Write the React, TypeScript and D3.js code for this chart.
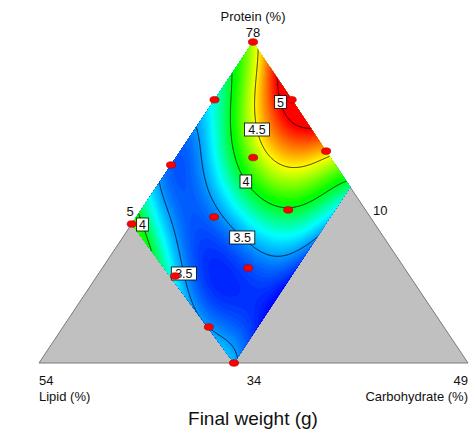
import React, { useMemo } from 'react';
import * as d3 from 'd3';

// ---------- DATA ----------
const axisNames = ['Protein (%)', 'Lipid (%)', 'Carbohydrate (%)'];
const vertexValues = ['78', '54', '49'];
const constraintValues = ['5', '10', '34'];
const chartTitle = 'Final weight (g)';

// constrained mixture region, fractions [protein, lipid, carbohydrate]
const regionVertices: number[][] = [
  [1, 0, 0],
  [0.433, 0.567, 0],
  [0, 0.5455, 0.4545],
  [0.548, 0, 0.452],
];

// design points, fractions [protein, lipid, carbohydrate]
const designPoints: number[][] = [
  [1, 0, 0],
  [0.82, 0.18, 0],
  [0.82, 0, 0.18],
  [0.66, 0, 0.34],
  [0.617, 0.383, 0],
  [0.64, 0.18, 0.18],
  [0.477, 0.18, 0.343],
  [0.455, 0.364, 0.181],
  [0.296, 0.364, 0.34],
  [0.433, 0.567, 0],
  [0.271, 0.547, 0.182],
  [0.112, 0.548, 0.34],
  [0, 0.5455, 0.4545],
];

// pseudo-component scaling: u = lipid / lipidMax, v = carb / carbMax
const lipidMax = 0.555;
const carbMax = 0.453;

// response readings from the plot [u, v, final weight]
const responseReadings: number[][] = [
  [0, 0, 4.35], [1, 0, 4.12], [0, 1, 3.9], [1, 1, 3.55],
  [0.19, 0, 4.0], [0.33, 0, 3.78], [0.47, 0, 3.5], [0.63, 0, 3.32], [0.785, 0, 3.5], [0.955, 0, 4.0],
  [0, 0.04, 4.5], [0, 0.26, 5.0], [0, 0.43, 5.25], [0, 0.585, 5.0], [0, 0.757, 4.5], [0, 0.96, 4.0],
  [0.2, 1, 3.5], [0.45, 1, 3.35], [0.7, 1, 3.27], [0.94, 1, 3.5],
  [1, 0.156, 4.0], [1, 0.3, 3.75], [1, 0.55, 3.55], [1, 0.8, 3.53],
  [0.65, 0.25, 3.5], [0.66, 0.39, 3.5], [0.63, 0.54, 3.5], [0.61, 0.61, 3.5], [0.53, 0.82, 3.5], [0.4, 0.94, 3.5],
  [0.85, 0.2, 3.5], [0.926, 0.43, 3.5], [0.97, 0.6, 3.5], [0.96, 0.8, 3.5],
  [0.32, 0.19, 4.0], [0.41, 0.37, 4.0], [0.41, 0.45, 4.0], [0.41, 0.54, 4.0], [0.32, 0.75, 4.0], [0.126, 0.913, 4.0],
  [0.04, 0.08, 4.5], [0.23, 0.32, 4.5], [0.23, 0.53, 4.5], [0.12, 0.73, 4.5],
  [0.07, 0.36, 5.0], [0.067, 0.44, 5.0],
  [0.15, 0.45, 4.75], [0.1, 0.1, 4.3],
  [0.72, 0.25, 3.27], [0.78, 0.5, 3.23], [0.78, 0.75, 3.22], [0.7, 0.95, 3.25],
  [0.48, 0.2, 3.75], [0.52, 0.45, 3.75], [0.35, 0.85, 3.75], [0.9, 0.1, 3.75], [0.15, 0.97, 3.75],
];

const contourLevels = [3.5, 4, 4.5, 5];
const colorStops = [3.22, 3.68, 4.05, 4.5, 4.98];
const colorRange = ['#0000ff', '#00ffff', '#00ff00', '#ffff00', '#ff0000'];

// ---------- LAYOUT ----------
const W = 472;
const H = 431;
const TRI = { top: [253, 42], left: [39, 363], right: [468, 363] };
const FONT = "'Liberation Sans', Arial, Helvetica, sans-serif";
const DEG = 5;
const RIDGE = 1e-5;

// label hints in (u, v)
const labelHints = [
  { level: 5, u: 0.04, v: 0.36 },
  { level: 4.5, u: 0.22, v: 0.33 },
  { level: 4, u: 0.41, v: 0.45 },
  { level: 3.5, u: 0.61, v: 0.61 },
  { level: 3.5, u: 0.92, v: 0.46 },
  { level: 4, u: 0.975, v: 0.058 },
];

function project(f: number[]): [number, number] {
  const [p, l, c] = f;
  return [
    p * TRI.top[0] + l * TRI.left[0] + c * TRI.right[0],
    p * TRI.top[1] + l * TRI.left[1] + c * TRI.right[1],
  ];
}
function unproject(x: number, y: number): number[] {
  const p = (TRI.left[1] - y) / (TRI.left[1] - TRI.top[1]);
  const c = (x - p * TRI.top[0] - (1 - p) * TRI.left[0]) / (TRI.right[0] - TRI.left[0]);
  return [p, 1 - p - c, c];
}
function uvToFrac(u: number, v: number): number[] {
  const l = u * lipidMax;
  const c = v * carbMax;
  return [1 - l - c, l, c];
}

function basis(u: number, v: number): number[] {
  const s = 2 * u - 1;
  const t = 2 * v - 1;
  const out: number[] = [];
  for (let d = 0; d <= DEG; d++) {
    for (let i = 0; i <= d; i++) out.push(Math.pow(s, d - i) * Math.pow(t, i));
  }
  return out;
}

function solve(A: number[][], b: number[]): number[] {
  const n = b.length;
  const M = A.map((r, i) => [...r, b[i]]);
  for (let k = 0; k < n; k++) {
    let piv = k;
    for (let i = k + 1; i < n; i++) if (Math.abs(M[i][k]) > Math.abs(M[piv][k])) piv = i;
    [M[k], M[piv]] = [M[piv], M[k]];
    for (let i = k + 1; i < n; i++) {
      const f = M[i][k] / M[k][k];
      for (let j = k; j <= n; j++) M[i][j] -= f * M[k][j];
    }
  }
  const x = new Array(n).fill(0);
  for (let i = n - 1; i >= 0; i--) {
    let s = M[i][n];
    for (let j = i + 1; j < n; j++) s -= M[i][j] * x[j];
    x[i] = s / M[i][i];
  }
  return x;
}

function fitModel(): number[] {
  const m = basis(0, 0).length;
  const A = Array.from({ length: m }, () => new Array(m).fill(0));
  const b = new Array(m).fill(0);
  for (const [u, v, y] of responseReadings) {
    const phi = basis(u, v);
    for (let i = 0; i < m; i++) {
      b[i] += phi[i] * y;
      for (let j = 0; j < m; j++) A[i][j] += phi[i] * phi[j];
    }
  }
  for (let i = 0; i < m; i++) A[i][i] += RIDGE;
  return solve(A, b);
}

export default function App() {
  const computed = useMemo(() => {
    const coef = fitModel();
    const model = (u: number, v: number) => {
      const phi = basis(u, v);
      let s = 0;
      for (let i = 0; i < phi.length; i++) s += phi[i] * coef[i];
      return s;
    };
    const regionPx = regionVertices.map(project);
    const xs = regionPx.map((p) => p[0]);
    const ys = regionPx.map((p) => p[1]);
    const x0 = Math.floor(d3.min(xs)!) - 6;
    const y0 = Math.floor(d3.min(ys)!) - 6;
    const nx = Math.ceil(d3.max(xs)!) + 6 - x0;
    const ny = Math.ceil(d3.max(ys)!) + 6 - y0;
    const values = new Float64Array(nx * ny);
    for (let j = 0; j < ny; j++) {
      for (let i = 0; i < nx; i++) {
        const [, l, c] = unproject(x0 + i + 0.5, y0 + j + 0.5);
        values[j * nx + i] = model(l / lipidMax, c / carbMax);
      }
    }
    const color = d3.scaleLinear<string>().domain(colorStops).range(colorRange).clamp(true);
    const bandThresholds = d3.range(2.9, 5.8, 0.02);
    const bands = d3.contours().size([nx, ny]).thresholds(bandThresholds)(values as any);
    const lines = d3.contours().size([nx, ny]).thresholds(contourLevels)(values as any);
    const path = d3.geoPath();
    const bandPaths = bands.map((b) => ({ d: path(b as any) || '', fill: color(b.value + 0.01) }));
    const linePaths = lines.map((b) => ({ d: path(b as any) || '', value: b.value }));
    const minVal = d3.min(values as any as number[])!;

    // labels snapped to contour lines
    const labels = labelHints.map((h) => {
      const [hx, hy] = project(uvToFrac(h.u, h.v));
      const c = lines.find((l) => l.value === h.level);
      let best: [number, number] = [hx, hy];
      let bd = Infinity;
      if (c) {
        for (const poly of c.coordinates) {
          for (const ring of poly) {
            for (const pt of ring) {
              const px = pt[0] + x0;
              const py = pt[1] + y0;
              if (!d3.polygonContains(regionPx, [px, py])) continue;
              const dd = (px - hx) ** 2 + (py - hy) ** 2;
              if (dd < bd) {
                bd = dd;
                best = [px, py];
              }
            }
          }
        }
      }
      return { text: String(h.level), x: best[0], y: best[1] };
    });

    return { x0, y0, bandPaths, linePaths, regionPx, labels, baseFill: color(minVal) };
  }, []);

  const { x0, y0, bandPaths, linePaths, regionPx, labels, baseFill } = computed;
  const triPts = [TRI.top, TRI.left, TRI.right];
  const regionD = 'M' + regionPx.map((p) => p.join(',')).join('L') + 'Z';
  const leftV = regionPx[1];
  const bottomV = regionPx[2];
  const rightV = regionPx[3];
  const outline = [leftV, TRI.left, TRI.right, rightV];

  return (
    <svg
      width={W}
      height={H}
      style={{ position: 'absolute', left: 0, top: 0, background: '#fff' }}
      fontFamily={FONT}
    >
      <defs>
        <clipPath id="region">
          <path d={regionD} />
        </clipPath>
      </defs>
      <polygon points={triPts.map((p) => p.join(',')).join(' ')} fill="#c0c0c0" />
      <polyline points={outline.map((p) => p.join(',')).join(' ')} fill="none" stroke="#7a7a7a" strokeWidth={1} />
      <g clipPath="url(#region)">
        <path d={regionD} fill={baseFill} />
        <g transform={`translate(${x0},${y0})`}>
          {bandPaths.map((b, i) => (
            <path key={i} d={b.d} fill={b.fill} stroke={b.fill} strokeWidth={0.3} />
          ))}
          {linePaths.map((l, i) => (
            <path key={'l' + i} d={l.d} fill="none" stroke="#000" strokeWidth={0.8} />
          ))}
        </g>
      </g>
      {labels.map((lb, i) => {
        const w = lb.text.length * 6.7 + 5;
        return (
          <g key={'lb' + i}>
            <rect x={lb.x - w / 2} y={lb.y - 6.5} width={w} height={13} fill="#fff" stroke="#000" strokeWidth={0.8} />
            <text x={lb.x} y={lb.y + 4.5} textAnchor="middle" fontSize={12.5} fill="#111">
              {lb.text}
            </text>
          </g>
        );
      })}
      {designPoints.map((d, i) => {
        const [x, y] = project(d);
        return <ellipse key={'p' + i} cx={x} cy={y} rx={4.6} ry={3.3} fill="#ff0000" stroke="#a00000" strokeWidth={0.6} />;
      })}
      <text x={TRI.top[0]} y={21} textAnchor="middle" fontSize={13} fill="#111">{axisNames[0]}</text>
      <text x={TRI.top[0]} y={36.5} textAnchor="middle" fontSize={13} fill="#111">{vertexValues[0]}</text>
      <text x={leftV[0] - 1.5} y={leftV[1] - 8} textAnchor="middle" fontSize={13} fill="#111">{constraintValues[0]}</text>
      <text x={rightV[0] + 30} y={rightV[1] + 28} textAnchor="middle" fontSize={13} fill="#111">{constraintValues[1]}</text>
      <text x={bottomV[0] + 20} y={385} textAnchor="middle" fontSize={13} fill="#111">{constraintValues[2]}</text>
      <text x={TRI.left[0]} y={385} textAnchor="start" fontSize={13} fill="#111">{vertexValues[1]}</text>
      <text x={TRI.left[0]} y={401} textAnchor="start" fontSize={13} fill="#111">{axisNames[1]}</text>
      <text x={TRI.right[0]} y={385} textAnchor="end" fontSize={13} fill="#111">{vertexValues[2]}</text>
      <text x={TRI.right[0]} y={401} textAnchor="end" fontSize={13} fill="#111">{axisNames[2]}</text>
      <text x={TRI.top[0]} y={425} textAnchor="middle" fontSize={19} fill="#111">{chartTitle}</text>
    </svg>
  );
}
